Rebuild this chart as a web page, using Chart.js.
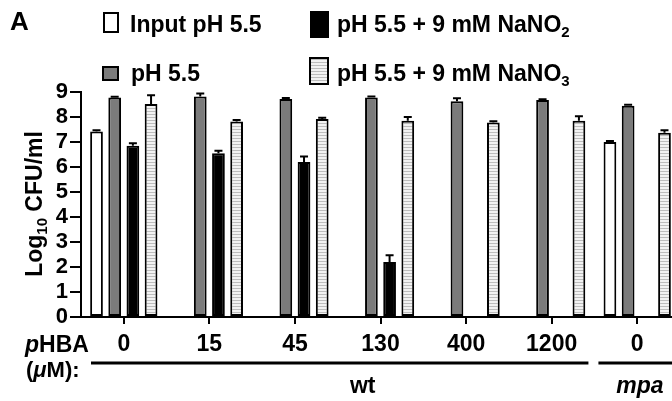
<!DOCTYPE html>
<html>
<head>
<meta charset="utf-8">
<script src="https://cdn.jsdelivr.net/npm/chart.js@4"></script>
<style>
  html, body { margin: 0; padding: 0; overflow: hidden; background: #fff; }
  body { width: 672px; height: 401px; position: relative; font-family: "Liberation Sans", Arial, sans-serif; font-weight: bold; color: #000; }
  #wrap { position: absolute; left: 0; top: 0; width: 690px; height: 401px; }
  .t { position: absolute; white-space: nowrap; line-height: 1; font-size: 23px; }
  .box { position: absolute; box-sizing: border-box; border: 2px solid #000; }
  sub { font-size: 15px; line-height: 0; vertical-align: -5px; }
  #ytitle { left: 34px; top: 204px; transform: translate(-50%, -50%) rotate(-90deg); }
</style>
</head>
<body>
<div id="wrap"><canvas id="myChart"></canvas></div>

<div class="t" style="left:10px;top:8px;font-size:26px;">A</div>

<div class="box" style="left:103px;top:12px;width:16px;height:21px;background:#fff;"></div>
<div class="t" style="left:130px;top:12.5px;">Input pH 5.5</div>
<div class="box" style="left:102px;top:66px;width:17px;height:15px;background:#7b7b7b;"></div>
<div class="t" style="left:131px;top:62px;">pH 5.5</div>

<div class="box" style="left:310px;top:11px;width:19px;height:27px;background:#000;"></div>
<div class="t" style="left:337px;top:12.5px;">pH 5.5 + 9 mM NaNO<sub>2</sub></div>
<div class="box" style="left:309px;top:57px;width:20px;height:28px;background:repeating-linear-gradient(to bottom, #bdbdbd 0 1px, #f2f2f2 1px 3px);"></div>
<div class="t" style="left:337px;top:61.5px;">pH 5.5 + 9 mM NaNO<sub>3</sub></div>

<div class="t" id="ytitle">Log<sub>10</sub> CFU/ml</div>

<div class="t" style="left:25px;top:332.5px;"><i>p</i>HBA</div>
<div class="t" style="left:26px;top:359px;font-size:22px;">(<i>&mu;</i>M):</div>

<script>
// values (Log10 CFU/ml), upper error only
const categories = ['0', '15', '45', '130', '400', '1200', '0'];
const inputVals = [7.42, null, null, null, null, null, 7.0];
const inputErr = [0.05, 0, 0, 0, 0, 0, 0.04];
const ph55Vals = [8.78, 8.82, 8.72, 8.78, 8.63, 8.68, 8.45];
const ph55Err = [0.03, 0.12, 0.04, 0.04, 0.12, 0.03, 0.04];
const nitriteVals = [6.85, 6.55, 6.2, 2.2, null, null, null];
const nitriteErr = [0.1, 0.1, 0.22, 0.27, 0, 0, 0];
const nitrateVals = [8.52, 7.82, 7.92, 7.85, 7.78, 7.85, 7.37];
const nitrateErr = [0.35, 0.06, 0.05, 0.15, 0.05, 0.18, 0.1];
const yTicks = [0, 1, 2, 3, 4, 5, 6, 7, 8, 9];
const strainGroups = [
    { label: 'wt', from: 0, to: 5, italic: false },
    { label: 'mpa', from: 6, to: 6, italic: true }
];

// horizontal stripes for the nitrate bars
function stripePattern() {
    const c = document.createElement('canvas');
    c.width = 4; c.height = 3;
    const g = c.getContext('2d');
    g.fillStyle = '#f2f2f2';
    g.fillRect(0, 0, 4, 3);
    g.fillStyle = '#bdbdbd';
    g.fillRect(0, 0, 4, 1);
    return g.createPattern(c, 'repeat');
}

const errorBars = {
    id: 'errorBars',
    afterDatasetsDraw(chart) {
        const ctx = chart.ctx;
        const y = chart.scales.y;
        ctx.save();
        ctx.strokeStyle = '#000';
        ctx.lineWidth = 2;
        chart.data.datasets.forEach((ds, i) => {
            const meta = chart.getDatasetMeta(i);
            meta.data.forEach((bar, j) => {
                const v = ds.data[j];
                const e = ds.err[j];
                if (v === null || !e) return;
                const top = y.getPixelForValue(v + e);
                ctx.beginPath();
                ctx.moveTo(bar.x, bar.y);
                ctx.lineTo(bar.x, top);
                ctx.moveTo(bar.x - 4, top);
                ctx.lineTo(bar.x + 4, top);
                ctx.stroke();
            });
        });
        ctx.restore();
    }
};

// strain lines and names under the pHBA ticks
const strainLabels = {
    id: 'strainLabels',
    afterDraw(chart) {
        const ctx = chart.ctx;
        const x = chart.scales.x;
        const half = (x.getPixelForValue(1) - x.getPixelForValue(0)) / 2;
        ctx.save();
        ctx.strokeStyle = '#000';
        ctx.fillStyle = '#000';
        ctx.lineWidth = 3;
        ctx.textAlign = 'center';
        ctx.textBaseline = 'alphabetic';
        strainGroups.forEach((g, i) => {
            const left = x.getPixelForValue(g.from) - half + (i === 0 ? 10 : 4);
            const right = x.getPixelForValue(g.to) + half - 6;
            ctx.beginPath();
            ctx.moveTo(left, 363);
            ctx.lineTo(right, 363);
            ctx.stroke();
            ctx.font = (g.italic ? 'italic ' : '') + 'bold 23px "Liberation Sans", Arial, sans-serif';
            const cx = g.italic ? 640 : (left + right) / 2 + 23;
            ctx.fillText(g.label, cx, 393);
        });
        ctx.restore();
    }
};

const ctx = document.getElementById('myChart').getContext('2d');
const stripes = stripePattern();

const myChart = new Chart(ctx, {
    type: 'bar',
    data: {
        labels: categories,
        datasets: [{
            label: 'Input pH 5.5',
            data: inputVals,
            err: inputErr,
            backgroundColor: '#ffffff'
        }, {
            label: 'pH 5.5',
            data: ph55Vals,
            err: ph55Err,
            backgroundColor: '#7b7b7b'
        }, {
            label: 'pH 5.5 + 9 mM NaNO2',
            data: nitriteVals,
            err: nitriteErr,
            backgroundColor: '#000000'
        }, {
            label: 'pH 5.5 + 9 mM NaNO3',
            data: nitrateVals,
            err: nitrateErr,
            backgroundColor: stripes
        }]
    },
    options: {
        responsive: true,
        maintainAspectRatio: false,
        animation: false,
        layout: { padding: { top: 92, right: 10, bottom: 0, left: 0 } },
        datasets: {
            bar: {
                borderColor: '#000',
                borderWidth: 2,
                borderSkipped: false,
                categoryPercentage: 0.85,
                barPercentage: 0.7
            }
        },
        plugins: {
            legend: { display: false },
            tooltip: { enabled: false }
        },
        scales: {
            x: {
                offset: true,
                grid: { display: true, offset: false, drawOnChartArea: false, drawTicks: true, tickLength: 7, color: '#000', lineWidth: 2 },
                border: { display: true, color: '#000', width: 2 },
                ticks: {
                    color: '#000',
                    padding: 7,
                    maxRotation: 0,
                    autoSkip: false,
                    font: { family: '"Liberation Sans", Arial, sans-serif', size: 23, weight: 'bold' }
                },
                afterFit: s => { s.height = 84; }
            },
            y: {
                min: 0,
                max: 9,
                afterBuildTicks: s => { s.ticks = yTicks.map(v => ({ value: v })); },
                grid: { display: true, drawOnChartArea: false, drawTicks: true, tickLength: 11, color: '#000', lineWidth: 2 },
                border: { display: true, color: '#000', width: 2 },
                ticks: {
                    color: '#000',
                    padding: 2,
                    autoSkip: false,
                    font: { family: '"Liberation Sans", Arial, sans-serif', size: 22, weight: 'bold' }
                },
                afterFit: s => { s.width = 81; }
            }
        }
    },
    plugins: [errorBars, strainLabels]
});
</script>
</body>
</html>
